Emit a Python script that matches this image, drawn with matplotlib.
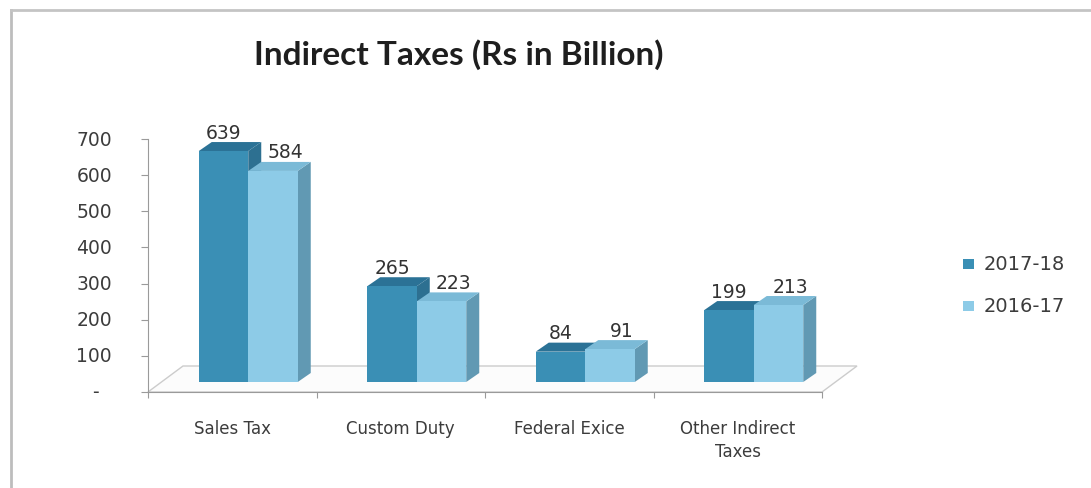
import matplotlib.pyplot as plt
from matplotlib.patches import Polygon, Rectangle
from matplotlib.lines import Line2D

plt.rcParams['font.family'] = 'DejaVu Sans'

# data
categories = ['Sales Tax', 'Custom Duty', 'Federal Exice', 'Other Indirect\nTaxes']
series_names = ['2017-18', '2016-17']
values_1718 = [639, 265, 84, 199]
values_1617 = [584, 223, 91, 213]
y_ticks = [0, 100, 200, 300, 400, 500, 600, 700]
y_tick_labels = ['-', '100', '200', '300', '400', '500', '600', '700']

# colours: front, top, side
dark = ('#3a8fb5', '#2b7296', '#2d7091')
light = ('#8dcbe7', '#7bbad7', '#6199b3')
text_col = '#3c3c3c'

W, H = 1091, 489
fig = plt.figure(figsize=(W / 100, H / 100), dpi=100)
fig.patch.set_facecolor('white')

# axes placed so the front axis runs 148..822 px, value 0..700 at 393..140 px
ax = fig.add_axes([148 / W, (H - 393) / H, 674 / W, 253 / H])
ax.set_xlim(0, 4)
ax.set_ylim(0, 700)
ax.set_facecolor('none')

# one pixel in data units
ux = 4 / 674
uy = 700 / 253

# floor of the 3d box
floor_dx, floor_dy = 35, 26
floor = Polygon([(0, 0), (4, 0), (4 + floor_dx * ux, floor_dy * uy),
                 (floor_dx * ux, floor_dy * uy)], closed=True,
                facecolor='#fcfcfc', edgecolor='#cccccc', lw=1.0,
                clip_on=False, zorder=1)
ax.add_patch(floor)

# bars sit half way into the depth of the box
base_dx, base_dy = 16, 10
bar_w = 49.5 * ux
side_dx, side_dy = 13, 9


def draw_bar(x0, h, cols):
    bx = x0 + base_dx * ux
    by = base_dy * uy
    sx, sy = side_dx * ux, side_dy * uy
    front = Rectangle((bx, by), bar_w, h, facecolor=cols[0], edgecolor='none',
                      clip_on=False, zorder=3)
    top = Polygon([(bx, by + h), (bx + bar_w, by + h), (bx + bar_w + sx, by + h + sy),
                   (bx + sx, by + h + sy)], closed=True, facecolor=cols[1],
                  edgecolor='none', clip_on=False, zorder=3)
    side = Polygon([(bx + bar_w, by), (bx + bar_w + sx, by + sy),
                    (bx + bar_w + sx, by + h + sy), (bx + bar_w, by + h)], closed=True,
                   facecolor=cols[2], edgecolor='none', clip_on=False, zorder=3)
    for p in (side, top, front):
        ax.add_patch(p)
    return bx + bar_w / 2, by + h


for i, (a, b) in enumerate(zip(values_1718, values_1617)):
    left = i + 0.5 - bar_w
    cx, cy = draw_bar(left, a, dark)
    ax.text(cx, cy + 19 * uy, str(a), ha='center', va='center', fontsize=13.5,
            color='#333333', zorder=5)
    cx, cy = draw_bar(left + bar_w, b, light)
    ax.text(cx + 12 * ux, cy + 19 * uy, str(b), ha='center', va='center',
            fontsize=13.5, color='#333333', zorder=5)

# axes lines and ticks
for s in ('top', 'right'):
    ax.spines[s].set_visible(False)
ax.spines['left'].set_color('#9a9a9a')
ax.spines['bottom'].set_color('#9a9a9a')
ax.set_yticks(y_ticks, labels=[])
ax.set_xticks([0, 1, 2, 3, 4], labels=[])
ax.tick_params(axis='y', length=5, color='#9a9a9a')
ax.tick_params(axis='x', length=4, color='#9a9a9a', direction='out')

for v, lab in zip(y_ticks, y_tick_labels):
    xpos = -36 * ux if lab != '-' else -49 * ux
    ax.text(xpos, v, lab, ha='right', va='center', fontsize=13.5,
            color=text_col, clip_on=False)

for i, c in enumerate(categories):
    ax.text(i + 0.5, -27 * uy, c, ha='center', va='top', fontsize=12,
            color=text_col, linespacing=1.35, clip_on=False)

# title
fig.text(459 / W, 1 - 55 / H, 'Indirect Taxes (Rs in Billion)', ha='center',
         va='center', fontsize=24, fontweight='bold', family='Lato',
         color='#1e1e1e')

# legend
for k, (name, cols) in enumerate(zip(series_names, [dark, light])):
    yc = 1 - (265 + 42 * k) / H
    fig.patches.append(Rectangle((963 / W, yc - 5 / H), 11 / W, 10 / H,
                                 transform=fig.transFigure, facecolor=cols[0],
                                 edgecolor='none'))
    fig.text(984 / W, yc, name, ha='left', va='center', fontsize=14,
             color=text_col)

# chart border
fig.add_artist(Line2D([11 / W, 11 / W], [0, 1 - 11 / H], color='#bdbdbd', lw=2))
fig.add_artist(Line2D([11 / W, 1], [1 - 11 / H, 1 - 11 / H], color='#c4c4c4', lw=2))

fig.savefig('out.png', dpi=100)
